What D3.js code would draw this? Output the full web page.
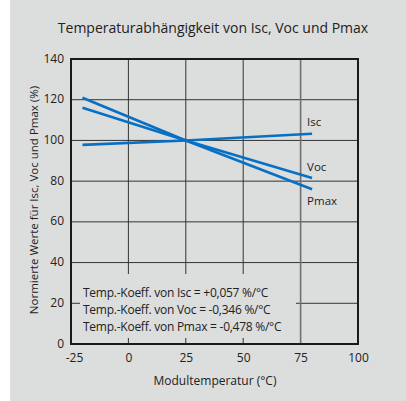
<!DOCTYPE html>
<html><head><meta charset="utf-8">
<script src="https://cdn.jsdelivr.net/npm/d3@7"></script>
<style>
html,body{margin:0;padding:0;background:#fff;}
svg{display:block;}
text{font-family:"Open Sans","Noto Sans",sans-serif;fill:#222;}
</style></head>
<body>
<svg id="chart" width="406" height="401"></svg>
<script>
const temps = [-20, 25, 80];
const isc = [97.8, 100, 103.3];
const voc = [116, 100, 81.5];
const pmax = [121, 100, 76];
const seriesNames = ["Isc", "Voc", "Pmax"];
const xTicks = [-25, 0, 25, 50, 75, 100];
const yTicks = [0, 20, 40, 60, 80, 100, 120, 140];
const title = "Temperaturabhängigkeit von Isc, Voc und Pmax";
const xTitle = "Modultemperatur (°C)";
const yTitle = "Normierte Werte für Isc, Voc und Pmax (%)";
const coeffLines = [
  "Temp.-Koeff. von Isc = +0,057 %/°C",
  "Temp.-Koeff. von Voc = -0,346 %/°C",
  "Temp.-Koeff. von Pmax = -0,478 %/°C"
];

const svg = d3.select("#chart");
const bg = "#dcdddd";
svg.append("rect").attr("x",10).attr("y",0).attr("width",396).attr("height",401).attr("fill",bg);

const L=71, R=358, T=59, B=344;
const x = d3.scaleLinear().domain([-25,100]).range([L,R]);
const y = d3.scaleLinear().domain([0,140]).range([B,T]);

// title
svg.append("text").attr("x",213).attr("y",33).attr("text-anchor","middle")
  .style("font-size","14px").text(title);

// grid
const g = svg.append("g");
g.selectAll("line.h").data(yTicks.slice(1,-1)).join("line")
  .attr("x1",L).attr("x2",R).attr("y1",d=>y(d)).attr("y2",d=>y(d))
  .attr("stroke","#333").attr("stroke-width",1);
g.selectAll("line.v").data(xTicks.slice(1,-1)).join("line")
  .attr("x1",d=>x(d)).attr("x2",d=>x(d)).attr("y1",T).attr("y2",B)
  .attr("stroke",d=>d===75?"#707070":"#333").attr("stroke-width",d=>d===75?1.6:1);

// text box
svg.append("rect").attr("x",80).attr("y",274).attr("width",216).attr("height",64).attr("fill",bg);
svg.selectAll("text.coef").data(coeffLines).join("text").attr("class","coef")
  .attr("x",83).attr("y",(d,i)=>297+i*17).style("font-size","12px").style("letter-spacing","-0.25px").text(d=>d);

// lines
const data = [isc, voc, pmax];
const line = d3.line().x((d,i)=>x(temps[i])).y(d=>y(d));
svg.selectAll("path.s").data(data).join("path")
  .attr("d",d=>line(d)).attr("fill","none").attr("stroke","#0870c4").attr("stroke-width",2.6);

// frame
svg.append("rect").attr("x",L).attr("y",T).attr("width",R-L).attr("height",B-T)
  .attr("fill","none").attr("stroke","#1a1a1a").attr("stroke-width",2);

// series labels
const offs = [-8, -7, 16];
svg.selectAll("text.lab").data(seriesNames).join("text").attr("class","lab")
  .attr("x",x(80)-5).attr("y",(d,i)=>y(data[i][2])+offs[i])
  .style("font-size","11.5px").text(d=>d);

// axes
const ya = svg.append("g").attr("transform",`translate(${L},0)`)
  .call(d3.axisLeft(y).tickValues(yTicks).tickSize(0).tickPadding(7).tickFormat(d=>String(d)));
ya.select(".domain").remove();
ya.selectAll("text").style("font-size","12px").style("font-family","'Open Sans',sans-serif").attr("fill","#222").attr("dy","0.25em");

const xa = svg.append("g").attr("transform",`translate(0,${B})`)
  .call(d3.axisBottom(x).tickValues(xTicks).tickSize(0).tickPadding(9).tickFormat(d=>String(d)));
xa.select(".domain").remove();
xa.selectAll("text").style("font-size","12px").style("font-family","'Open Sans',sans-serif").attr("fill","#222");
xa.selectAll("text").filter(d=>d===-25).attr("dx","3px");

svg.append("text").attr("x",215).attr("y",385).attr("text-anchor","middle")
  .style("font-size","12px").text(xTitle);
svg.append("text").attr("transform","translate(38,200) rotate(-90)").attr("text-anchor","middle")
  .style("font-size","11.5px").text(yTitle);
</script>
</body></html>
